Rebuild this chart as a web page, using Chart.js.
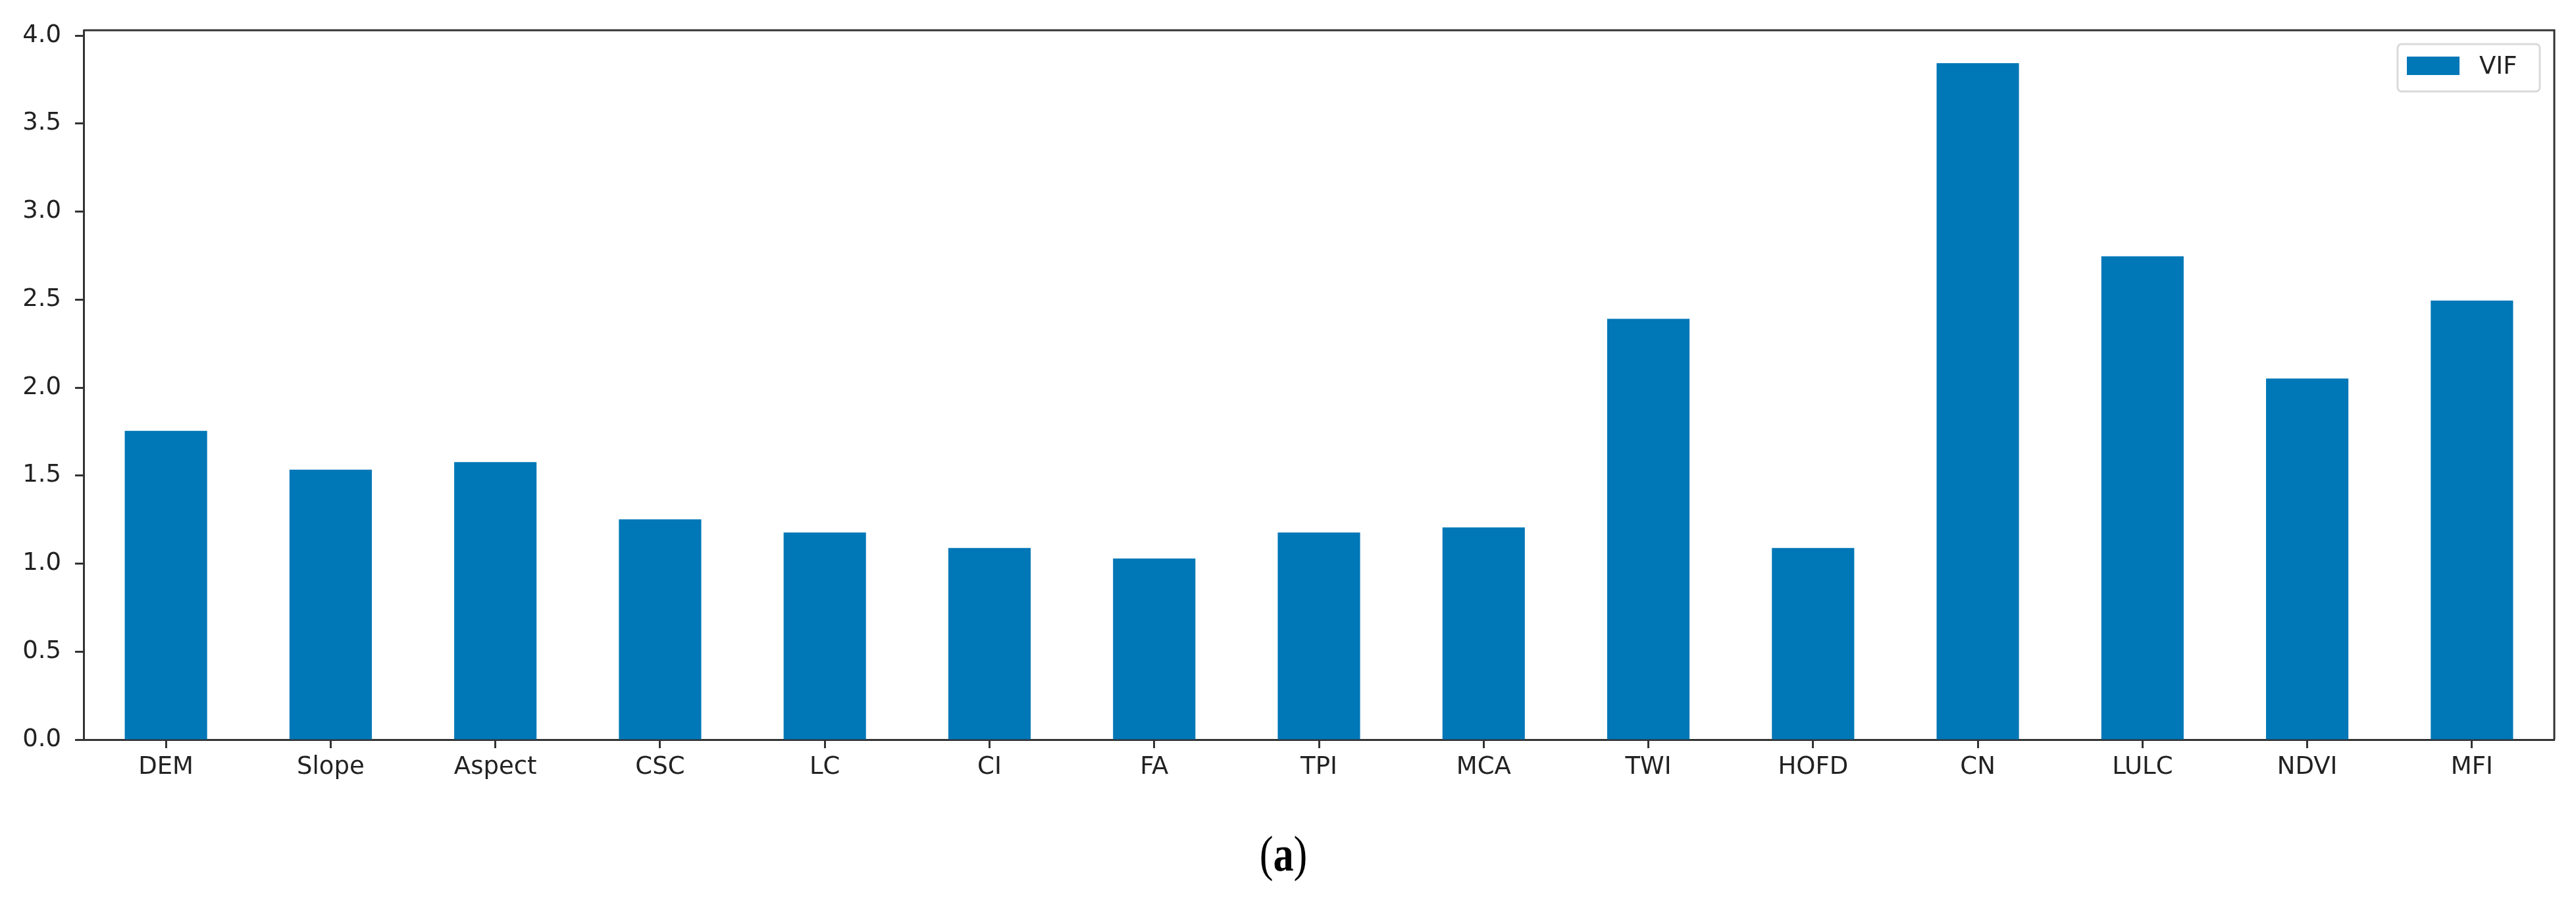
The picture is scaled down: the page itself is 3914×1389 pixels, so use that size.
<!DOCTYPE html>
<html lang="en">
<head>
  <meta charset="UTF-8">
  <title>VIF</title>
  <script src="https://cdn.jsdelivr.net/npm/chart.js"></script>
  <style>
    body {
      margin: 0;
      background: #fff;
    }

    .wrap {
      position: relative;
      width: 3914px;
      height: 1389px;
    }

    #caption {
      position: absolute;
      left: 0;
      width: 3900px;
      top: 1254px;
      text-align: center;
      font-family: "Liberation Serif", serif;
      font-size: 76px;
      color: #000;
      transform: scaleX(0.82);
    }
  </style>
</head>
<body>

  <div class="wrap">
    <canvas id="vifChart" width="3914" height="1389"></canvas>
    <div id="caption">(<b>a</b>)</div>
  </div>

  <script>
  const factors = ["DEM", "Slope", "Aspect", "CSC", "LC", "CI", "FA", "TPI", "MCA", "TWI", "HOFD", "CN", "LULC", "NDVI", "MFI"];
  const vifValues = [1.754, 1.534, 1.577, 1.251, 1.177, 1.089, 1.029, 1.177, 1.206, 2.391, 1.089, 3.843, 2.746, 2.051, 2.494];
  const yTicks = [0.0, 0.5, 1.0, 1.5, 2.0, 2.5, 3.0, 3.5, 4.0];

  const barColor = "#0077b7";
  const axisColor = "#333333";
  const textColor = "#222222";

  // top & right spines + boxed legend in the upper right corner
  const framePlugin = {
    id: "frame",
    afterDraw(chart) {
      const ctx = chart.ctx;
      const a = chart.chartArea;
      ctx.save();
      ctx.strokeStyle = axisColor;
      ctx.lineWidth = 3;
      ctx.beginPath();
      ctx.moveTo(a.left, a.top);
      ctx.lineTo(a.right, a.top);
      ctx.lineTo(a.right, a.bottom);
      ctx.stroke();

      // legend
      const ds = chart.data.datasets[0];
      const bx = a.right - 238, by = a.top + 21, bw = 216, bh = 72;
      ctx.strokeStyle = "#d9d9d9";
      ctx.lineWidth = 3;
      ctx.beginPath();
      ctx.roundRect(bx, by, bw, bh, 6);
      ctx.fillStyle = "rgba(255,255,255,0.8)";
      ctx.fill();
      ctx.stroke();
      ctx.fillStyle = ds.backgroundColor;
      ctx.fillRect(bx + 14, by + 19, 80, 28);
      ctx.fillStyle = textColor;
      ctx.font = '37px "DejaVu Sans"';
      ctx.textBaseline = "middle";
      ctx.fillText(ds.label, bx + 124, by + 35);
      ctx.restore();
    }
  };

  new Chart(document.getElementById("vifChart"), {
    type: "bar",
    data: {
      labels: factors,
      datasets: [{
        label: "VIF",
        data: vifValues,
        backgroundColor: barColor,
        barPercentage: 0.5,
        categoryPercentage: 1.0
      }]
    },
    options: {
      responsive: false,
      animation: false,
      layout: { padding: { left: 0, right: 33, top: 46, bottom: 0 } },
      plugins: {
        legend: { display: false },
        tooltip: { enabled: false }
      },
      scales: {
        x: {
          offset: true,
          grid: {
            offset: false,
            drawOnChartArea: false,
            drawTicks: true,
            tickLength: 13,
            tickWidth: 3,
            tickColor: axisColor
          },
          border: { display: true, color: axisColor, width: 3 },
          ticks: {
            color: textColor,
            font: { family: "DejaVu Sans", size: 37 },
            padding: 7,
            maxRotation: 0,
            autoSkip: false
          },
          afterFit(scale) { scale.height = 265; }
        },
        y: {
          min: 0,
          max: 4.03,
          grid: {
            drawOnChartArea: false,
            drawTicks: true,
            tickLength: 13,
            tickWidth: 3,
            tickColor: axisColor
          },
          border: { display: true, color: axisColor, width: 3 },
          afterBuildTicks(scale) {
            scale.ticks = yTicks.map(v => ({ value: v }));
          },
          ticks: {
            color: textColor,
            font: { family: "DejaVu Sans", size: 37 },
            padding: 21,
            callback: v => Number(v).toFixed(1)
          },
          afterFit(scale) { scale.width = 127; }
        }
      }
    },
    plugins: [framePlugin]
  });
  </script>
</body>
</html>
